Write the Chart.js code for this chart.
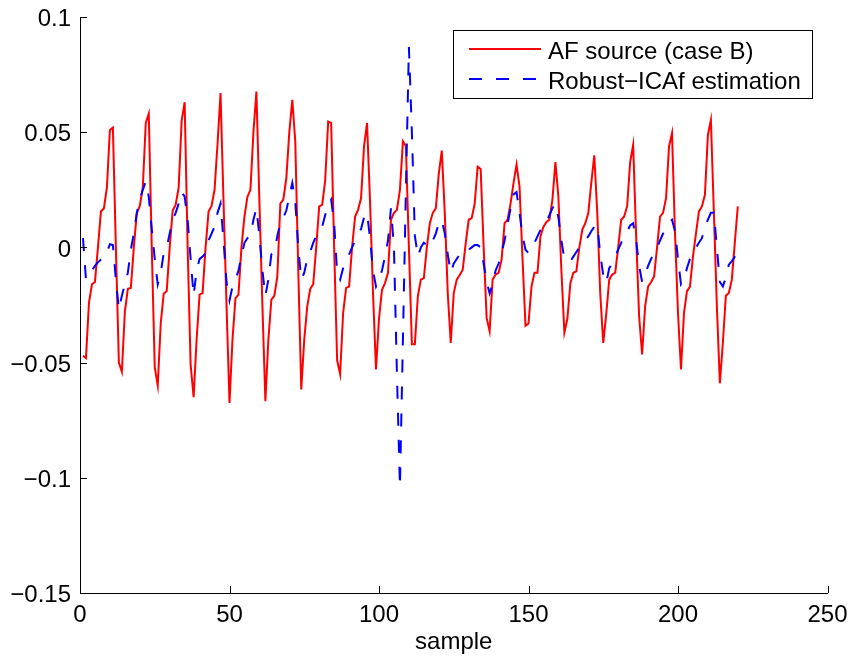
<!DOCTYPE html>
<html>
<head>
<meta charset="utf-8">
<script src="https://cdn.jsdelivr.net/npm/chart.js@4.4.1/dist/chart.umd.min.js"></script>
<style>
  body { margin: 0; background: #fff; }
  #wrap { width: 852px; height: 662px; }
</style>
</head>
<body>
<div id="wrap"><canvas id="graph" width="852" height="662"></canvas></div>
<script>
// samples 1..220
var afSource = [
  -0.047, -0.048, -0.024, -0.016, -0.015, 0.000, 0.0156, 0.017, 0.026, 0.051,
  0.052, 0.000, -0.050, -0.054, -0.028, -0.018, -0.0176, 0.000, 0.015, 0.018,
  0.026, 0.054, 0.058, 0.000, -0.052, -0.060, -0.033, -0.020, -0.019, 0.000,
  0.016, 0.0185, 0.026, 0.055, 0.063, 0.000, -0.051, -0.065, -0.040, -0.0205,
  -0.0198, 0.000, 0.0156, 0.018, 0.025, 0.045, 0.067, 0.020, -0.025, -0.0675,
  -0.040, -0.022, -0.0205, 0.000, 0.0134, 0.022, 0.025, 0.050, 0.0676, 0.020,
  -0.025, -0.0668, -0.040, -0.0227, -0.021, -0.0126, 0.019, 0.0207, 0.030, 0.050,
  0.064, 0.046, -0.010, -0.0617, -0.040, -0.0256, -0.018, -0.016, 0.000, 0.0178,
  0.0185, 0.029, 0.0546, 0.054, 0.000, -0.049, -0.055, -0.0285, -0.0176, -0.017,
  0.000, 0.0134, 0.0163, 0.0214, 0.044, 0.054, 0.020, -0.020, -0.053, -0.031,
  -0.0184, -0.0155, -0.011, 0.012, 0.015, 0.0163, 0.025, 0.046, 0.044, 0.000,
  -0.042, -0.042, -0.021, -0.014, -0.0133, 0.000, 0.0105, 0.015, 0.017, 0.032,
  0.042, 0.015, -0.020, -0.0415, -0.0198, -0.014, -0.012, -0.0097, 0.0019, 0.012,
  0.0127, 0.019, 0.035, 0.034, 0.000, -0.0306, -0.0364, -0.014, -0.0118, -0.011,
  -0.0053, 0.0105, 0.012, 0.019, 0.028, 0.036, 0.0264, -0.005, -0.034, -0.033,
  -0.017, -0.011, -0.011, 0.0048, 0.009, 0.011, 0.012, 0.0207, 0.037, 0.022,
  -0.010, -0.037, -0.031, -0.0155, -0.011, -0.0104, 0.000, 0.0077, 0.0105, 0.0149,
  0.028, 0.040, 0.015, -0.020, -0.0415, -0.029, -0.014, -0.0118, -0.011, 0.000,
  0.012, 0.0134, 0.018, 0.037, 0.0445, 0.005, -0.030, -0.0465, -0.0256, -0.017,
  -0.015, -0.0126, 0.000, 0.0134, 0.015, 0.0214, 0.0438, 0.0496, 0.006, -0.0285,
  -0.053, -0.0285, -0.019, -0.017, -0.004, 0.006, 0.0156, 0.0178, 0.0228, 0.0488,
  0.0553, 0.015, -0.0256, -0.059, -0.0415, -0.021, -0.0198, -0.014, 0.002, 0.0178
];
var robustIcaf = [
  0.004, -0.014, -0.012, -0.010, -0.008, -0.0065, -0.0053, -0.005, -0.002, 0.0014,
  0.001, -0.014, -0.027, -0.021, -0.016, -0.011, -0.001, 0.006, 0.015, 0.0207,
  0.025, 0.0286, 0.022, 0.008, -0.005, -0.016, -0.011, -0.0025, 0.000, 0.006,
  0.012, 0.015, 0.019, 0.024, 0.022, 0.012, -0.005, -0.021, -0.010, -0.005,
  -0.004, -0.0025, 0.003, 0.006, 0.009, 0.015, 0.019, 0.003, -0.015, -0.023,
  -0.017, -0.014, -0.010, -0.004, 0.002, 0.004, 0.005, 0.012, 0.017, 0.005,
  -0.010, -0.021, -0.014, -0.003, -0.002, 0.005, 0.0105, 0.013, 0.016, 0.022,
  0.028, 0.020, 0.000, -0.014, -0.011, -0.005, -0.002, 0.002, 0.005, 0.007,
  0.009, 0.014, 0.018, 0.0207, 0.0105, -0.011, -0.014, -0.009, -0.006, -0.003,
  0.000, 0.003, 0.006, 0.008, 0.013, 0.015, 0.004, -0.010, -0.017, -0.014,
  -0.010, -0.004, 0.003, 0.017, 0.000, -0.055, -0.104, -0.040, 0.025, 0.087,
  0.050, 0.005, -0.004, 0.000, 0.002, 0.001, 0.000, 0.003, 0.006, 0.0105,
  0.012, 0.006, -0.003, -0.011, -0.007, -0.005, -0.003, -0.001, -0.001, -0.001,
  0.000, 0.001, 0.001, 0.000, -0.007, -0.015, -0.020, -0.016, -0.010, -0.007,
  -0.0025, 0.003, 0.010, 0.017, 0.023, 0.024, 0.015, 0.005, -0.001, -0.0025,
  -0.001, 0.002, 0.0048, 0.0075, 0.009, 0.011, 0.014, 0.017, 0.019, 0.013,
  0.003, -0.005, -0.006, -0.006, -0.004, -0.002, 0.000, 0.002, 0.0033, 0.0048,
  0.007, 0.009, 0.0098, -0.003, -0.012, -0.0155, -0.009, -0.007, -0.004, -0.001,
  0.002, 0.005, 0.007, 0.0095, 0.0105, 0.003, -0.008, -0.015, -0.012, -0.008,
  -0.005, -0.0025, 0.000, 0.003, 0.006, 0.0077, 0.0105, 0.012, 0.007, -0.005,
  -0.016, -0.014, -0.009, -0.005, -0.002, 0.000, 0.002, 0.004, 0.009, 0.012,
  0.015, 0.015, 0.000, -0.015, -0.017, -0.013, -0.0075, -0.006, -0.004, -0.0025
];
var seriesNames = ['AF source (case B)', 'Robust\u2212ICAf estimation'];
var xTicks = [0, 50, 100, 150, 200, 250];
var yTicks = [-0.15, -0.1, -0.05, 0, 0.05, 0.1];
var yTickLabels = ['\u22120.15', '\u22120.1', '\u22120.05', '0', '0.05', '0.1'];
var xTitle = 'sample';

const fontFam = '"Liberation Sans", Arial, Helvetica, sans-serif';
const tickFont = { family: fontFam, size: 24 };

function toPoints(arr) {
  return arr.map((v, i) => ({ x: i + 1, y: v }));
}

// matlab style ticks pointing into the plot
const innerTicks = {
  id: 'innerTicks',
  afterDraw(chart) {
    const { ctx, chartArea: a, scales } = chart;
    ctx.save();
    ctx.strokeStyle = '#000';
    ctx.lineWidth = 1;
    ctx.beginPath();
    scales.x.ticks.forEach(t => {
      const px = Math.round(scales.x.getPixelForValue(t.value)) + 0.5;
      ctx.moveTo(px, a.bottom);
      ctx.lineTo(px, a.bottom - 7);
    });
    scales.y.ticks.forEach(t => {
      const py = Math.round(scales.y.getPixelForValue(t.value)) + 0.5;
      ctx.moveTo(a.left, py);
      ctx.lineTo(a.left + 7, py);
    });
    ctx.stroke();
    ctx.restore();
  }
};

// boxed legend in the upper right of the axes
const boxLegend = {
  id: 'boxLegend',
  afterDraw(chart) {
    const ctx = chart.ctx;
    ctx.save();
    ctx.fillStyle = '#fff';
    ctx.fillRect(453.5, 30.5, 359, 68);
    ctx.strokeStyle = '#000';
    ctx.lineWidth = 1;
    ctx.strokeRect(453.5, 30.5, 359, 68);
    chart.data.datasets.forEach((ds, i) => {
      const y = 49 + i * 30;
      ctx.beginPath();
      ctx.strokeStyle = ds.borderColor;
      ctx.lineWidth = ds.borderWidth;
      ctx.setLineDash(ds.borderDash || []);
      ctx.moveTo(469, y);
      ctx.lineTo(541, y);
      ctx.stroke();
      ctx.setLineDash([]);
      ctx.fillStyle = '#000';
      ctx.font = '24px ' + fontFam;
      ctx.textBaseline = 'alphabetic';
      ctx.fillText(ds.label, 548, y + 9.5);
    });
    ctx.restore();
  }
};

var g = document.getElementById('graph').getContext('2d');

var graph = new Chart(g, {
  type: 'line',
  data: {
    datasets: [{
      label: seriesNames[0],
      data: toPoints(afSource),
      borderColor: '#ff0000',
      borderWidth: 2,
      pointRadius: 0,
      tension: 0,
      order: 1
    }, {
      label: seriesNames[1],
      data: toPoints(robustIcaf),
      borderColor: '#0000ff',
      borderWidth: 2,
      borderDash: [13, 14],
      pointRadius: 0,
      tension: 0,
      order: 0
    }]
  },
  options: {
    responsive: false,
    animation: false,
    devicePixelRatio: 1,
    layout: { padding: { top: 17, right: 24.5, bottom: 0, left: 0 } },
    plugins: {
      legend: { display: false },
      tooltip: { enabled: false }
    },
    scales: {
      x: {
        type: 'linear',
        min: 0,
        max: 250,
        afterBuildTicks: s => { s.ticks = xTicks.map(v => ({ value: v })); },
        afterFit: s => { s.height = 69; s.paddingLeft = 0; s.paddingRight = 0; },
        grid: { display: false, drawTicks: false },
        border: { display: true, color: '#000', width: 1 },
        ticks: { color: '#000', font: tickFont, padding: 8, maxRotation: 0, autoSkip: false },
        title: { display: true, text: xTitle, color: '#000', font: tickFont, padding: { top: 0, bottom: 5 } }
      },
      y: {
        type: 'linear',
        min: -0.15,
        max: 0.1,
        afterBuildTicks: s => { s.ticks = yTicks.map(v => ({ value: v })); },
        afterFit: s => { s.width = 80; s.paddingTop = 0; s.paddingBottom = 0; },
        grid: { display: false, drawTicks: false },
        border: { display: true, color: '#000', width: 1 },
        ticks: {
          color: '#000',
          font: tickFont,
          padding: 9,
          labelOffset: 2.5,
          autoSkip: false,
          callback: (v) => yTickLabels[yTicks.indexOf(v)]
        }
      }
    }
  },
  plugins: [innerTicks, boxLegend]
});
</script>
</body>
</html>
